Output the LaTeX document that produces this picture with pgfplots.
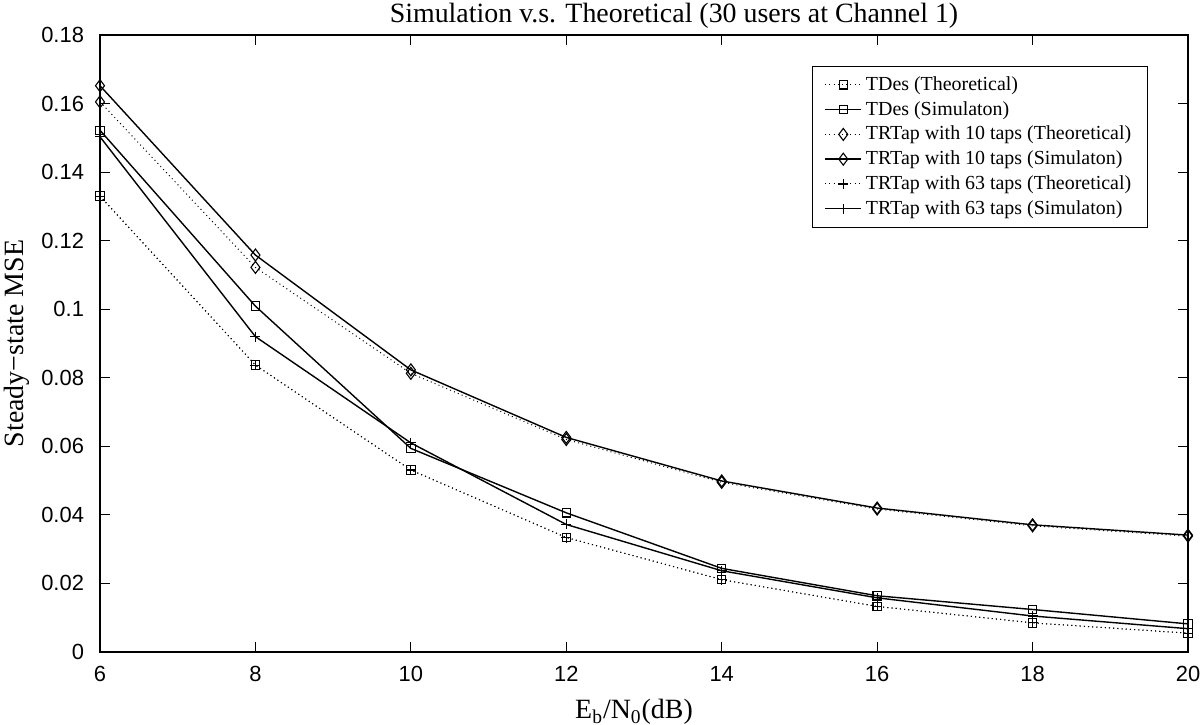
\documentclass[border=0pt]{standalone}
\usepackage{fontspec}
\setmainfont{Liberation Serif}
\newfontfamily\helv{Liberation Sans}
\usepackage{pgfplots}
\pgfplotsset{compat=1.18}
\begin{document}
\begin{tikzpicture}
\path[use as bounding box] (-50bp,-36.5bp) rectangle (550bp,326bp);
\begin{axis}[
  scale only axis, width=544bp, height=308.5bp,
  at={(0,0)}, anchor=south west,
  xmin=6, xmax=20, ymin=0, ymax=0.18,
  xtick={6,8,10,12,14,16,18,20},
  ytick={0,0.02,0.04,0.06,0.08,0.1,0.12,0.14,0.16,0.18},
  scaled y ticks=false,
  yticklabel style={/pgf/number format/fixed,/pgf/number format/precision=2, xshift=-4.5bp},
  xticklabel style={yshift=-3.5bp},
  ticklabel style={font=\helv\fontsize{11}{13}\selectfont},
  /pgf/number format/assume math mode=true,
  tick align=inside, major tick length=5bp,
  axis line style={line width=0.6bp},
  every tick/.style={black, line width=0.5bp},
  title={Simulation v.s. Theoretical (30 users at Channel 1)},
  title style={font=\fontsize{14}{16}\selectfont, at={(axis description cs:0.5,1)}, anchor=base, yshift=0.5bp, xshift=15bp},
  xlabel={E\textsubscript{b}/N\textsubscript{0}(dB)},
  ylabel={Steady−state MSE},
  label style={font=\fontsize{14}{16}\selectfont},
  xlabel style={at={(axis description cs:0.5,0)}, anchor=center, yshift=-30bp, xshift=-5bp},
  ylabel style={at={(axis description cs:-0.0763,0.5)}, anchor=center, rotate=0},
  legend style={font=\fontsize{10}{12}\selectfont, draw=black, line width=0.6bp,
    at={(0.963,0.95)}, anchor=north east, cells={anchor=west},
    row sep=0bp, inner xsep=6bp, inner ysep=3bp},
  legend cell align=left,
  legend image code/.code={\draw[mark repeat=2,mark phase=2] plot coordinates {(0bp,0bp)(9bp,0bp)(18bp,0bp)};},
  theo/.style={black, line width=0.5bp, dash pattern=on 0.5bp off 1.6bp, mark options={solid, line width=0.55bp}},
  sim/.style={black, line width=0.7bp, mark options={solid, line width=0.55bp}},
]
\addplot[theo, mark=square, mark size=2.1bp] coordinates {(6,0.1330)(8,0.0837)(10,0.0531)(12,0.0334)(14,0.0211)(16,0.0133)(18,0.0085)(20,0.0055)};
\addlegendentry{TDes (Theoretical)}
\addplot[sim, mark=square, mark size=2.1bp] coordinates {(6,0.1522)(8,0.1009)(10,0.0594)(12,0.0406)(14,0.0244)(16,0.0164)(18,0.0124)(20,0.0082)};
\addlegendentry{TDes (Simulaton)}
\addplot[theo, mark=diamond, mark size=3bp] coordinates {(6,0.1605)(8,0.1122)(10,0.0813)(12,0.0620)(14,0.0495)(16,0.0417)(18,0.0368)(20,0.0338)};
\addlegendentry{TRTap with 10 taps (Theoretical)}
\addplot[sim, mark=diamond, mark size=3bp] coordinates {(6,0.1652)(8,0.1158)(10,0.0823)(12,0.0626)(14,0.0499)(16,0.0420)(18,0.0371)(20,0.0341)};
\addlegendentry{TRTap with 10 taps (Simulaton)}
\addplot[theo, mark=+, mark size=2.5bp] coordinates {(6,0.1330)(8,0.0837)(10,0.0531)(12,0.0334)(14,0.0211)(16,0.0133)(18,0.0085)(20,0.0055)};
\addlegendentry{TRTap with 63 taps (Theoretical)}
\addplot[sim, mark=+, mark size=2.5bp] coordinates {(6,0.1503)(8,0.0920)(10,0.0610)(12,0.0372)(14,0.0237)(16,0.0158)(18,0.0105)(20,0.0068)};
\addlegendentry{TRTap with 63 taps (Simulaton)}
\end{axis}
\end{tikzpicture}
\end{document}
